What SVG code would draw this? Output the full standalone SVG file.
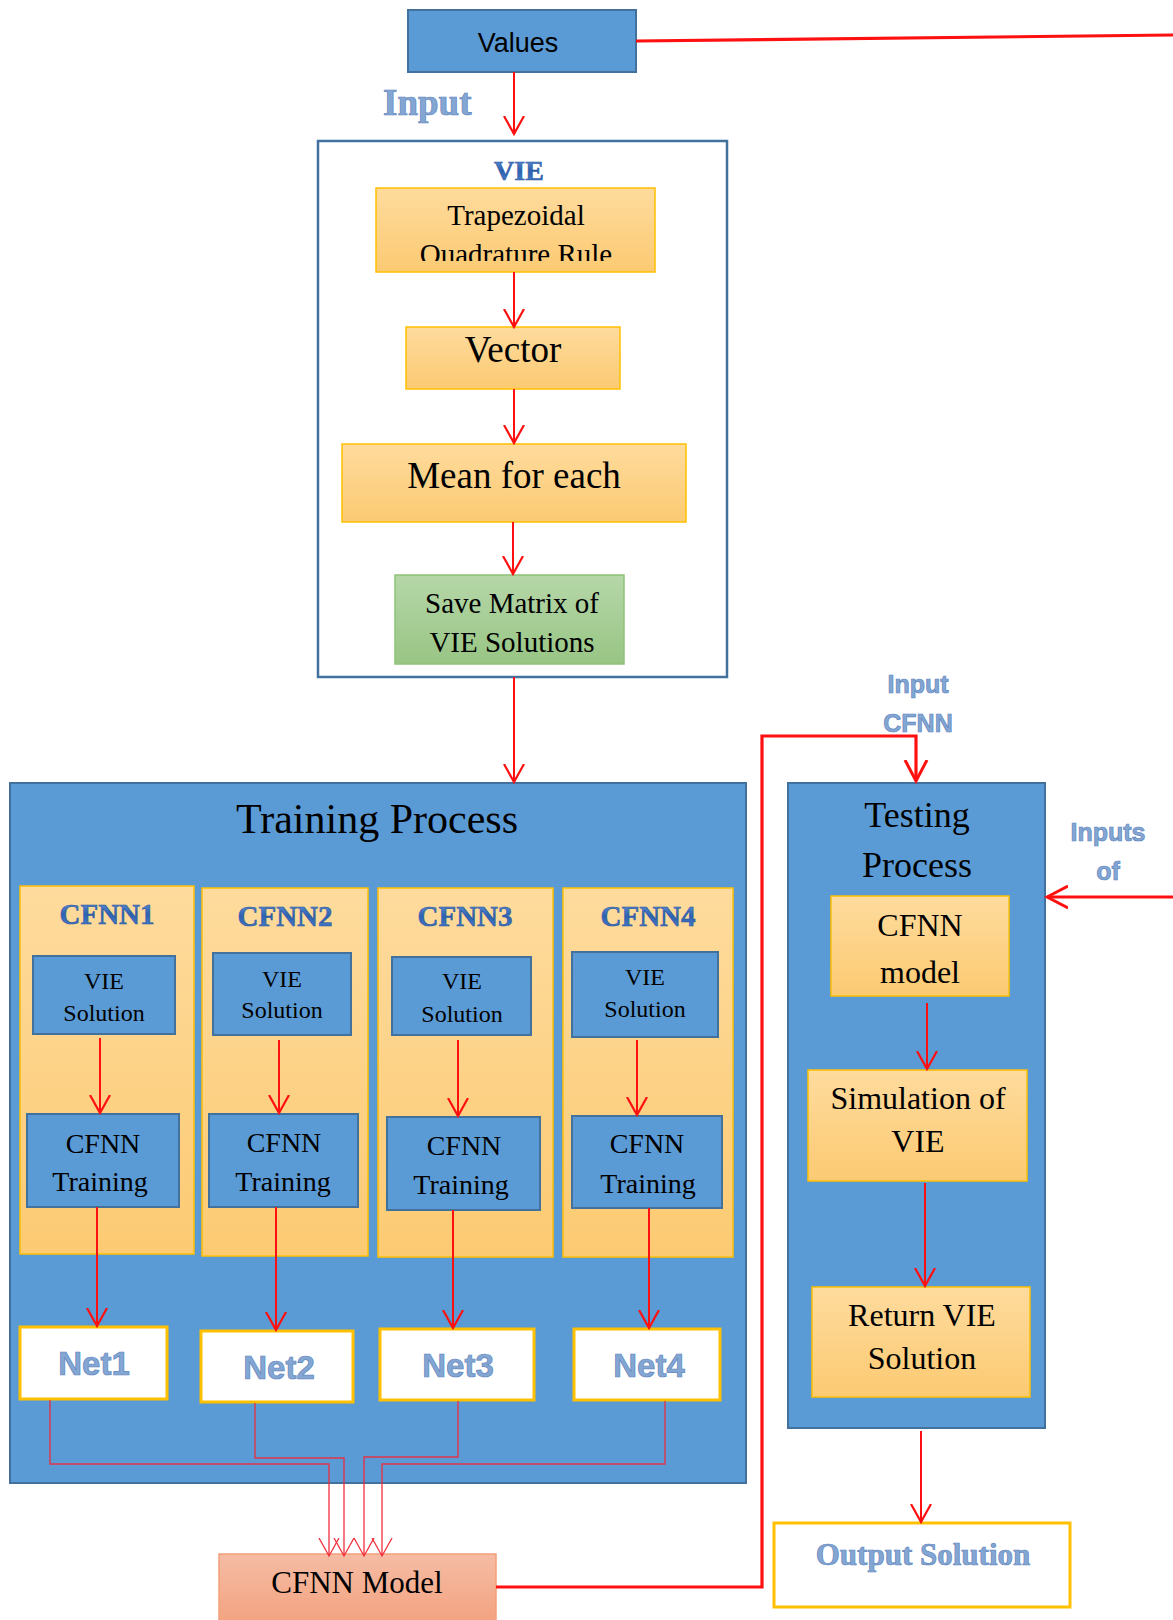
<svg xmlns="http://www.w3.org/2000/svg" width="1173" height="1620" viewBox="0 0 1173 1620">
<defs>
<linearGradient id="gOr" x1="0" y1="0" x2="0" y2="1"><stop offset="0" stop-color="#fedb9d"/><stop offset="1" stop-color="#fcca72"/></linearGradient>
<linearGradient id="gGr" x1="0" y1="0" x2="0" y2="1"><stop offset="0" stop-color="#b6d7a9"/><stop offset="1" stop-color="#98c584"/></linearGradient>
<linearGradient id="gSa" x1="0" y1="0" x2="0" y2="1"><stop offset="0" stop-color="#f5bca4"/><stop offset="1" stop-color="#f3a27f"/></linearGradient>
<linearGradient id="gTx" x1="0" y1="0" x2="0" y2="1"><stop offset="0" stop-color="#6f9fe0"/><stop offset="0.5" stop-color="#2e61b0"/><stop offset="1" stop-color="#4f83cc"/></linearGradient>
<clipPath id="clipTrap"><rect x="376" y="188" width="279" height="73"/></clipPath>
<marker id="ah" markerUnits="userSpaceOnUse" viewBox="0 0 20 24" markerWidth="20" markerHeight="24" refX="18" refY="12" orient="auto"><path d="M0,2 L18,12 L0,22" fill="none" stroke="#ff1010" stroke-width="2.2"/></marker>
<marker id="ahThin" markerUnits="userSpaceOnUse" viewBox="0 0 20 24" markerWidth="20" markerHeight="24" refX="18" refY="12" orient="auto"><path d="M0,2 L18,12 L0,22" fill="none" stroke="#f2303c" stroke-width="1.3"/></marker>
<marker id="ahBig" markerUnits="userSpaceOnUse" viewBox="0 0 24 28" markerWidth="24" markerHeight="28" refX="21" refY="14" orient="auto"><path d="M0,3 L21,14 L0,25" fill="none" stroke="#ff1010" stroke-width="3"/></marker>
<style>
.blue{fill:#5b9bd5;stroke:#41719c;stroke-width:2}
.or{fill:url(#gOr);stroke:#ffc000;stroke-width:1.5}
.gr{fill:url(#gGr);stroke:#8fc278;stroke-width:1.5}
.net{fill:#fff;stroke:#ffc000;stroke-width:3}
.tr{font-family:"Liberation Serif","Times New Roman",serif;fill:#000;text-anchor:middle}
.sn{font-family:"Liberation Sans",Arial,sans-serif;fill:#000;text-anchor:middle}
.lb{font-family:"Liberation Sans",Arial,sans-serif;font-weight:bold;fill:#84a6d3;stroke:#5f86bd;stroke-width:0.7;text-anchor:middle}
.lbs{font-family:"Liberation Serif","Times New Roman",serif;font-weight:bold;fill:#84a6d3;stroke:#5f86bd;stroke-width:0.7}
.cf{font-family:"Liberation Serif","Times New Roman",serif;font-weight:bold;fill:url(#gTx);stroke:#1f4f9a;stroke-width:0.5;text-anchor:middle}
.e{fill:none;stroke:#ff1010;stroke-width:2}
.et{fill:none;stroke:#ef2a3a;stroke-width:1.4;stroke-opacity:0.9}
.ek{fill:none;stroke:#ff1010;stroke-width:3.2}
</style>
</defs>
<rect width="1173" height="1620" fill="#fff"/>

<g id="values"><rect class="blue" x="408" y="10" width="228" height="62"/><text class="sn" x="518" y="52" font-size="27">Values</text></g>
<g id="label-input"><text class="lbs" x="383" y="115" font-size="37">Input</text></g>

<g id="vie"><rect x="318" y="141" width="409" height="536" fill="#fff" stroke="#41719c" stroke-width="2.5"/><text class="cf" x="519" y="180" font-size="28">VIE</text></g>
<g id="trapezoidal"><rect class="or" x="376" y="188" width="279" height="84"/><text class="tr" x="516" y="225" font-size="29">Trapezoidal</text><text class="tr" x="516" y="264" font-size="29" clip-path="url(#clipTrap)">Quadrature Rule</text></g>
<g id="vector"><rect class="or" x="406" y="327" width="214" height="62"/><text class="tr" x="513" y="362" font-size="37">Vector</text></g>
<g id="mean"><rect class="or" x="342" y="444" width="344" height="78"/><text class="tr" x="514" y="488" font-size="37">Mean for each</text></g>
<g id="save"><rect class="gr" x="395" y="575" width="229" height="89"/><text class="tr" x="512" y="613" font-size="29">Save Matrix of</text><text class="tr" x="512" y="652" font-size="29">VIE Solutions</text></g>

<g id="training"><rect class="blue" x="10" y="783" width="736" height="700"/><text class="tr" x="377" y="833" font-size="42">Training Process</text></g>

<g id="cfnn1"><rect class="or" x="20" y="886" width="174" height="368"/><text class="cf" x="107" y="924" font-size="29">CFNN1</text>
<rect class="blue" x="33" y="956" width="142" height="78"/><text class="tr" x="104" y="989" font-size="24">VIE</text><text class="tr" x="104" y="1021" font-size="24">Solution</text>
<rect class="blue" x="27" y="1114" width="152" height="93"/><text class="tr" x="103" y="1153" font-size="28">CFNN</text><text class="tr" x="100" y="1191" font-size="28">Training</text></g>

<g id="cfnn2"><rect class="or" x="202" y="888" width="166" height="368"/><text class="cf" x="285" y="926" font-size="29">CFNN2</text>
<rect class="blue" x="213" y="953" width="138" height="82"/><text class="tr" x="282" y="987" font-size="24">VIE</text><text class="tr" x="282" y="1018" font-size="24">Solution</text>
<rect class="blue" x="209" y="1114" width="149" height="93"/><text class="tr" x="284" y="1152" font-size="28">CFNN</text><text class="tr" x="283" y="1191" font-size="28">Training</text></g>

<g id="cfnn3"><rect class="or" x="378" y="888" width="175" height="369"/><text class="cf" x="465" y="926" font-size="29">CFNN3</text>
<rect class="blue" x="392" y="957" width="139" height="78"/><text class="tr" x="462" y="989" font-size="24">VIE</text><text class="tr" x="462" y="1022" font-size="24">Solution</text>
<rect class="blue" x="387" y="1117" width="153" height="93"/><text class="tr" x="464" y="1155" font-size="28">CFNN</text><text class="tr" x="461" y="1194" font-size="28">Training</text></g>

<g id="cfnn4"><rect class="or" x="563" y="888" width="170" height="369"/><text class="cf" x="648" y="926" font-size="29">CFNN4</text>
<rect class="blue" x="572" y="952" width="146" height="85"/><text class="tr" x="645" y="985" font-size="24">VIE</text><text class="tr" x="645" y="1017" font-size="24">Solution</text>
<rect class="blue" x="572" y="1116" width="150" height="92"/><text class="tr" x="647" y="1153" font-size="28">CFNN</text><text class="tr" x="648" y="1193" font-size="28">Training</text></g>

<g id="net1"><rect class="net" x="20" y="1327" width="147" height="72"/><text class="lb" x="94" y="1375" font-size="33">Net1</text></g>
<g id="net2"><rect class="net" x="201" y="1331" width="152" height="71"/><text class="lb" x="279" y="1379" font-size="33">Net2</text></g>
<g id="net3"><rect class="net" x="380" y="1329" width="154" height="71"/><text class="lb" x="458" y="1377" font-size="33">Net3</text></g>
<g id="net4"><rect class="net" x="574" y="1329" width="146" height="71"/><text class="lb" x="649" y="1377" font-size="33">Net4</text></g>

<g id="cfnn-model"><rect x="219" y="1554" width="277" height="70" fill="url(#gSa)" stroke="#f2a07a" stroke-width="1.5"/><text class="tr" x="357" y="1593" font-size="31">CFNN Model</text></g>

<g id="label-input-cfnn"><text class="lb" x="918" y="693" font-size="25">Input</text><text class="lb" x="918" y="732" font-size="25">CFNN</text></g>
<g id="label-inputs-of"><text class="lb" x="1108" y="841" font-size="25">Inputs</text><text class="lb" x="1108" y="880" font-size="25">of</text></g>

<g id="testing"><rect class="blue" x="788" y="783" width="257" height="645"/><text class="tr" x="917" y="827" font-size="36">Testing</text><text class="tr" x="917" y="877" font-size="36">Process</text></g>
<g id="cfnn-model-t"><rect class="or" x="831" y="896" width="178" height="100"/><text class="tr" x="920" y="936" font-size="32">CFNN</text><text class="tr" x="920" y="983" font-size="32">model</text></g>
<g id="simulation"><rect class="or" x="808" y="1070" width="219" height="111"/><text class="tr" x="918" y="1109" font-size="32">Simulation of</text><text class="tr" x="918" y="1152" font-size="32">VIE</text></g>
<g id="return"><rect class="or" x="812" y="1287" width="218" height="110"/><text class="tr" x="922" y="1326" font-size="32">Return VIE</text><text class="tr" x="922" y="1369" font-size="32">Solution</text></g>
<g id="output"><rect class="net" x="774" y="1523" width="296" height="84"/><text class="lbs" x="923" y="1565" font-size="31" text-anchor="middle">Output Solution</text></g>

<g id="connectors">
<path class="ek" d="M636,41 L1173,35"/>
<path class="e" d="M514,72 V134" marker-end="url(#ah)"/>
<path class="e" d="M514,272 V327" marker-end="url(#ah)"/>
<path class="e" d="M514,389 V443" marker-end="url(#ah)"/>
<path class="e" d="M513,522 V574" marker-end="url(#ah)"/>
<path class="e" d="M514,677 V782" marker-end="url(#ah)"/>
<path class="e" d="M100,1038 V1113" marker-end="url(#ah)"/>
<path class="e" d="M279,1040 V1113" marker-end="url(#ah)"/>
<path class="e" d="M458,1040 V1116" marker-end="url(#ah)"/>
<path class="e" d="M637,1040 V1115" marker-end="url(#ah)"/>
<path class="e" d="M97,1207 V1326" marker-end="url(#ah)"/>
<path class="e" d="M276,1207 V1330" marker-end="url(#ah)"/>
<path class="e" d="M453,1210 V1328" marker-end="url(#ah)"/>
<path class="e" d="M649,1208 V1328" marker-end="url(#ah)"/>
<path class="et" d="M50,1400 V1464 H329 V1556" marker-end="url(#ahThin)"/>
<path class="et" d="M255,1403 V1458 H344 V1556" marker-end="url(#ahThin)"/>
<path class="et" d="M458,1401 V1457 H364 V1556" marker-end="url(#ahThin)"/>
<path class="et" d="M665,1401 V1464 H382 V1556" marker-end="url(#ahThin)"/>
<path class="ek" d="M496,1587 H762 V736 H916 V781" marker-end="url(#ahBig)"/>
<path class="ek" d="M1173,897 H1047" marker-end="url(#ahBig)"/>
<path class="e" d="M927,1003 V1069" marker-end="url(#ah)"/>
<path class="e" d="M925,1183 V1286" marker-end="url(#ah)"/>
<path class="e" d="M921,1431 V1522" marker-end="url(#ah)"/>
</g>
</svg>
